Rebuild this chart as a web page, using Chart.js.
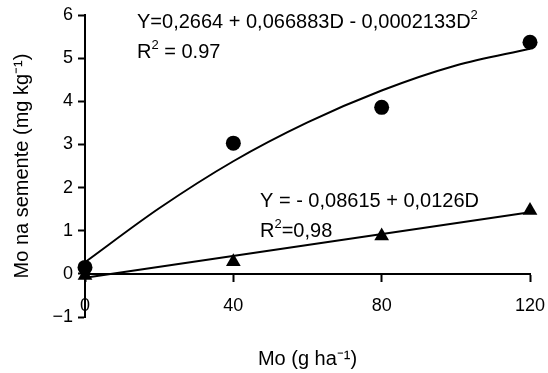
<!DOCTYPE html>
<html>
<head>
<meta charset="utf-8">
<script src="https://cdn.jsdelivr.net/npm/chart.js@4/dist/chart.umd.min.js"></script>
<style>
html,body{margin:0;padding:0;background:#fff;}
#wrap{width:548px;height:373px;position:relative;}
</style>
</head>
<body>
<div id="wrap"><canvas id="c" width="548" height="373"></canvas></div>
<script>
// Mo dose (g ha-1)
const doses = [0, 40, 80, 120];
// Observed Mo in seed (circles, upper series)
const circleValues = [0.15, 3.03, 3.86, 5.37];
// Observed Mo in seed (triangles, lower series)
const triangleValues = [-0.04, 0.28, 0.88, 1.47];
// Fitted quadratic curve
const curveDoses = [0, 20, 40, 60, 80, 100, 120];
const curveValues = [0.27, 1.52, 2.61, 3.51, 4.25, 4.83, 5.22];
// Fitted straight line
const lineDoses = [0, 120];
const lineValues = [-0.09, 1.43];
// Axis ticks
const xTicks = [0, 40, 80, 120];
const yTicks = [-1, 0, 1, 2, 3, 4, 5, 6];

const FONT = '"Liberation Sans", Arial, sans-serif';

const toPts = (xs, ys) => xs.map((x, i) => ({x: x, y: ys[i]}));

const annotations = {
  id: 'annotations',
  afterDatasetsDraw(chart) {
    const ctx = chart.ctx;
    ctx.save();
    ctx.fillStyle = '#000';
    ctx.textBaseline = 'alphabetic';
    function sup(parts, x, y) {
      let cx = x;
      parts.forEach(p => {
        ctx.font = (p.s ? '13px ' : '20px ') + FONT;
        ctx.fillText(p.t, cx, p.s ? y - 9 : y);
        cx += ctx.measureText(p.t).width;
      });
    }
    sup([{t: 'Y=0,2664 + 0,066883D - 0,0002133D'}, {t: '2', s: true}], 137, 28);
    sup([{t: 'R'}, {t: '2', s: true}, {t: ' = 0.97'}], 137, 58);
    sup([{t: 'Y = - 0,08615 + 0,0126D'}], 260, 207);
    sup([{t: 'R'}, {t: '2', s: true}, {t: '=0,98'}], 260, 237);
    ctx.restore();
  }
};

const chart = new Chart(document.getElementById('c'), {
  type: 'scatter',
  data: {
    datasets: [
      {
        data: toPts(curveDoses, curveValues),
        showLine: true, borderColor: '#000', borderWidth: 2,
        pointRadius: 0, tension: 0.4, cubicInterpolationMode: 'monotone', clip: false
      },
      {
        data: toPts(lineDoses, lineValues),
        showLine: true, borderColor: '#000', borderWidth: 2,
        pointRadius: 0, clip: false
      },
      {
        data: toPts(doses, circleValues),
        pointStyle: 'circle', pointRadius: 7.5, pointBackgroundColor: '#000',
        pointBorderColor: '#000', pointBorderWidth: 0, clip: false
      },
      {
        data: toPts(doses, triangleValues),
        pointStyle: 'triangle', pointRadius: 8.5, pointBackgroundColor: '#000',
        pointBorderColor: '#000', pointBorderWidth: 0, clip: false
      }
    ]
  },
  options: {
    responsive: false,
    animation: false,
    devicePixelRatio: 1,
    layout: {padding: {left: 0, right: 18, top: 15, bottom: 56}},
    plugins: {legend: {display: false}, tooltip: {enabled: false}},
    scales: {
      x: {
        type: 'linear',
        position: {y: 0},
        min: 0, max: 120,
        afterBuildTicks: (s) => { s.ticks = xTicks.map(v => ({value: v})); },
        afterFit: (s) => { s.paddingRight = 0; s.paddingLeft = 0; },
        border: {display: true, color: '#000', width: 2},
        grid: {display: true, drawOnChartArea: false, drawTicks: true, tickLength: 7, tickWidth: 2, tickColor: '#000'},
        ticks: {color: '#000', font: {family: FONT, size: 18}, padding: 14, maxRotation: 0},
        title: {display: true, text: 'Mo (g ha⁻¹)', color: '#000', font: {family: FONT, size: 20}, padding: {top: 17, bottom: 0}}
      },
      y: {
        type: 'linear',
        position: 'left',
        min: -1, max: 6,
        afterBuildTicks: (s) => { s.ticks = yTicks.map(v => ({value: v})); },
        afterFit: (s) => { s.width = 85; s.paddingTop = 0; s.paddingBottom = 0; },
        border: {display: true, color: '#000', width: 2},
        grid: {display: true, drawOnChartArea: false, drawTicks: true, tickLength: 7, tickWidth: 2, tickColor: '#000'},
        ticks: {color: '#000', font: {family: FONT, size: 18}, padding: 5,
                callback: (v) => String(v).replace('-', '\u2212')},
        title: {display: true, text: 'Mo na semente (mg kg⁻¹)', color: '#000', font: {family: FONT, size: 20}, padding: {top: 10, bottom: 0}}
      }
    }
  },
  plugins: [annotations]
});
</script>
</body>
</html>
